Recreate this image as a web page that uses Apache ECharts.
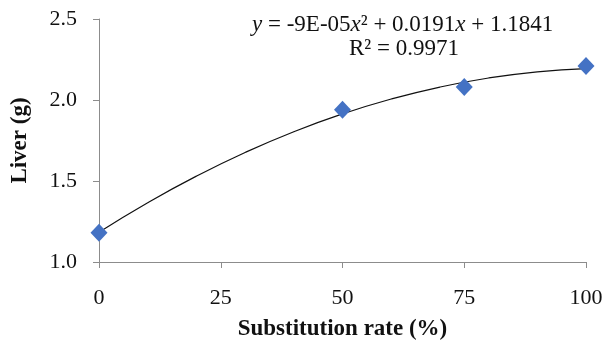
<!DOCTYPE html>
<html>
<head>
<meta charset="utf-8">
<script src="https://cdn.jsdelivr.net/npm/echarts@6/dist/echarts.min.js"></script>
<style>
  html, body { margin: 0; padding: 0; background: #fff; }
  #chart { width: 607px; height: 346px; }
</style>
</head>
<body>
<div id="chart"></div>
<script>
// measured points
const rates = [0, 50, 75, 100]
const liver = [1.18, 1.94, 2.08, 2.21]
// polynomial trendline
const trendX = [0, 10, 20, 30, 40, 50, 60, 70, 80, 90, 100]
const trendY = [1.184, 1.366, 1.530, 1.676, 1.804, 1.914, 2.006, 2.080, 2.136, 2.174, 2.194]
const xTicks = [0, 25, 50, 75, 100]
const yTicks = [1.0, 1.5, 2.0, 2.5]

const serif = '"Liberation Serif", "Times New Roman", serif'
const axisGrey = '#8c8c8c'
const ink = '#111'

const myChart = echarts.init(document.getElementById('chart'))
const option = {
  animation: false,
  textStyle: { fontFamily: serif },
  grid: { left: 99, right: 21, top: 19, bottom: 82 },
  xAxis: {
    type: 'value',
    min: xTicks[0],
    max: xTicks[xTicks.length - 1],
    interval: 25,
    name: 'Substitution rate (%)',
    nameLocation: 'middle',
    nameGap: 56,
    nameTextStyle: { fontFamily: serif, fontWeight: 'bold', fontSize: 23, color: ink },
    axisLine: { show: true, lineStyle: { color: axisGrey, width: 1 } },
    axisTick: { show: true, length: 6, lineStyle: { color: axisGrey } },
    axisLabel: { fontFamily: serif, fontSize: 22, color: ink, margin: 25 },
    splitLine: { show: false }
  },
  yAxis: {
    type: 'value',
    min: yTicks[0],
    max: yTicks[yTicks.length - 1],
    interval: 0.5,
    name: 'Liver (g)',
    nameLocation: 'middle',
    nameGap: 67,
    nameTextStyle: { fontFamily: serif, fontWeight: 'bold', fontSize: 23, color: ink },
    axisLine: { show: true, lineStyle: { color: axisGrey, width: 1 } },
    axisTick: { show: true, length: 6, lineStyle: { color: axisGrey } },
    axisLabel: {
      fontFamily: serif, fontSize: 22, color: ink, margin: 22,
      formatter: (v) => v.toFixed(1)
    },
    splitLine: { show: false }
  },
  graphic: [
    {
      type: 'text',
      left: 252,
      top: 13,
      style: {
        text: '{i|y} = -9E-05{i|x}² + 0.0191{i|x} + 1.1841',
        font: '23px ' + serif,
        fill: ink,
        rich: { i: { fontStyle: 'italic', fontFamily: serif, fontSize: 23, fill: ink } }
      }
    },
    {
      type: 'text',
      left: 349,
      top: 37,
      style: { text: 'R² = 0.9971', font: '23px ' + serif, fill: ink }
    }
  ],
  series: [
    {
      type: 'line',
      data: trendX.map((x, i) => [x, trendY[i]]),
      smooth: true,
      showSymbol: false,
      lineStyle: { color: '#111', width: 1.2 },
      z: 2
    },
    {
      type: 'scatter',
      data: rates.map((x, i) => [x, liver[i]]),
      symbol: 'diamond',
      symbolSize: [17, 18],
      itemStyle: { color: '#4472C4', opacity: 1 },
      z: 3
    }
  ]
}
myChart.setOption(option)
</script>
</body>
</html>
